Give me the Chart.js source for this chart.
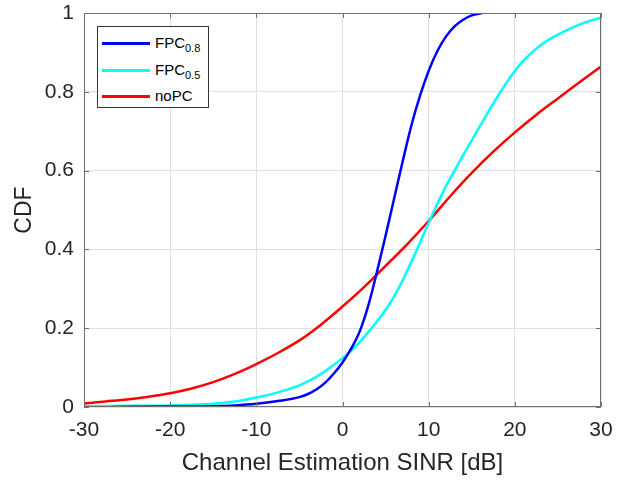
<!DOCTYPE html>
<html>
<head>
<meta charset="utf-8">
<script src="https://cdn.jsdelivr.net/npm/chart.js@4"></script>
<style>
  body { margin: 0; background: #fff; }
  #wrap { position: relative; width: 632px; height: 481px; }
  #legend { position: absolute; left: 97px; top: 26px; width: 110px; height: 80px;
    border: 1px solid #333; background: #fff; font-family: "Liberation Sans", Arial, sans-serif;
    font-size: 15px; color: #000; }
  .row { position: absolute; left: 4px; height: 20px; }
  .swatch { position: absolute; left: 0; width: 48px; height: 3px; }
  .lbl { position: absolute; left: 53px; white-space: nowrap; line-height: 17px; }
  .lbl sub { font-size: 11px; vertical-align: -4px; line-height: 0; }
</style>
</head>
<body>
<div id="wrap">
  <canvas id="chart" width="632" height="481"></canvas>
  <div id="legend"></div>
</div>
<script>
// FPC 0.8
const sinrFpc08 = [-26.8, -20, -15, -12.5, -10, -7.5, -5, -4, -3, -2, -1, 0, 1, 2, 3, 4, 5, 6, 7, 8, 9, 10, 11, 12, 13, 14, 15, 16.2];
const cdfFpc08 = [0, 0.001, 0.002, 0.004, 0.008, 0.015, 0.025, 0.033, 0.045, 0.062, 0.085, 0.113, 0.148, 0.192, 0.258, 0.343, 0.435, 0.53, 0.625, 0.715, 0.79, 0.853, 0.903, 0.94, 0.966, 0.983, 0.994, 1.0];
// FPC 0.5
const sinrFpc05 = [-30, -25, -20, -15, -12.5, -10, -7.5, -5, -4, -3, -2, -1, 0, 1, 2, 3, 4, 5, 6, 7, 8, 9, 10, 11, 12, 13, 14, 15, 16, 17, 18, 19, 20, 21, 22, 23, 24, 25, 26, 27, 28, 29, 30];
const cdfFpc05 = [0.002, 0.003, 0.004, 0.008, 0.014, 0.024, 0.037, 0.055, 0.065, 0.077, 0.091, 0.107, 0.124, 0.143, 0.165, 0.19, 0.217, 0.247, 0.281, 0.322, 0.369, 0.417, 0.467, 0.515, 0.56, 0.6, 0.639, 0.677, 0.715, 0.752, 0.788, 0.822, 0.853, 0.879, 0.9, 0.918, 0.933, 0.945, 0.956, 0.966, 0.975, 0.982, 0.988];
// no power control
const sinrNoPc = [-30, -27.5, -25, -22.5, -20, -17.5, -15, -12.5, -10, -7.5, -5, -2.5, 0, 2, 3.8, 5, 7.5, 10, 12.5, 15, 17.5, 20, 22.5, 25, 27.5, 30];
const cdfNoPc = [0.009, 0.014, 0.019, 0.026, 0.035, 0.047, 0.063, 0.084, 0.109, 0.137, 0.169, 0.209, 0.255, 0.294, 0.332, 0.358, 0.413, 0.472, 0.535, 0.594, 0.648, 0.697, 0.742, 0.783, 0.824, 0.864];

const seriesNames = [['FPC', '0.8'], ['FPC', '0.5'], ['noPC', '']];
const seriesColors = ['#0000ff', '#00ffff', '#ff0000'];
const xTicks = [-30, -20, -10, 0, 10, 20, 30];
const yTicks = [0, 0.2, 0.4, 0.6, 0.8, 1];

function points(xs, ys) {
    return xs.map((x, i) => ({x: x, y: ys[i]}));
}

const font = '"Liberation Sans", Arial, sans-serif';
const axisColor = '#707070';

// box around the plot and inward ticks, like matlab
const boxPlugin = {
    id: 'box',
    afterDatasetsDraw(chart) {
        const {ctx, chartArea: a, scales} = chart;
        ctx.save();
        ctx.strokeStyle = axisColor;
        ctx.lineWidth = 1;
        ctx.beginPath();
        ctx.rect(a.left + 0.5, a.top + 0.5, a.right - a.left - 1, a.bottom - a.top - 1);
        xTicks.forEach(v => {
            const px = Math.round(scales.x.getPixelForValue(v)) + 0.5;
            ctx.moveTo(px, a.bottom); ctx.lineTo(px, a.bottom - 5);
            ctx.moveTo(px, a.top); ctx.lineTo(px, a.top + 5);
        });
        yTicks.forEach(v => {
            const py = Math.round(scales.y.getPixelForValue(v)) + 0.5;
            ctx.moveTo(a.left, py); ctx.lineTo(a.left + 5, py);
            ctx.moveTo(a.right, py); ctx.lineTo(a.right - 5, py);
        });
        ctx.stroke();
        ctx.restore();
    }
};

const allData = [points(sinrFpc08, cdfFpc08), points(sinrFpc05, cdfFpc05), points(sinrNoPc, cdfNoPc)];

new Chart(document.getElementById('chart'), {
    type: 'line',
    data: {
        datasets: allData.map((d, i) => ({
            label: seriesNames[i].join(' '),
            data: d,
            borderColor: seriesColors[i],
            borderWidth: 2.5,
            pointRadius: 0,
            cubicInterpolationMode: 'monotone',
            fill: false
        }))
    },
    plugins: [boxPlugin],
    options: {
        responsive: false,
        animation: false,
        layout: {padding: {top: 0, right: 31, left: 0, bottom: 0}},
        plugins: {legend: {display: false}, tooltip: {enabled: false}},
        scales: {
            x: {
                type: 'linear', min: -30, max: 30,
                afterFit: s => { s.height = 74; },
                afterBuildTicks: s => { s.ticks = xTicks.map(v => ({value: v})); },
                grid: {color: '#e0e0e0', drawTicks: false},
                border: {display: false},
                ticks: {color: '#262626', font: {family: font, size: 21}, padding: 11},
                title: {display: true, text: 'Channel Estimation SINR [dB]', color: '#262626',
                        font: {family: font, size: 24}, padding: {top: 0, bottom: 3}}
            },
            y: {
                min: 0, max: 1,
                afterFit: s => { s.width = 84; s.paddingTop = 13; s.paddingBottom = 0; },
                afterBuildTicks: s => { s.ticks = yTicks.map(v => ({value: v})); },
                grid: {color: '#e0e0e0', drawTicks: false},
                border: {display: false},
                ticks: {color: '#262626', font: {family: font, size: 21}, padding: 10,
                        callback: v => String(+v.toFixed(1))},
                title: {display: true, text: 'CDF', color: '#262626',
                        font: {family: font, size: 23}, padding: {top: 11, bottom: 0}}
            }
        }
    }
});

// legend with subscripts
const legend = document.getElementById('legend');
const rowTops = [16, 43, 69];
seriesNames.forEach((n, i) => {
    const row = document.createElement('div');
    row.className = 'row';
    row.style.top = (rowTops[i] - 10) + 'px';
    row.innerHTML = '<span class="swatch" style="top:9px;background:' + seriesColors[i] + '"></span>' +
        '<span class="lbl" style="top:1px">' + n[0] + (n[1] ? '<sub>' + n[1] + '</sub>' : '') + '</span>';
    legend.appendChild(row);
});
</script>
</body>
</html>
